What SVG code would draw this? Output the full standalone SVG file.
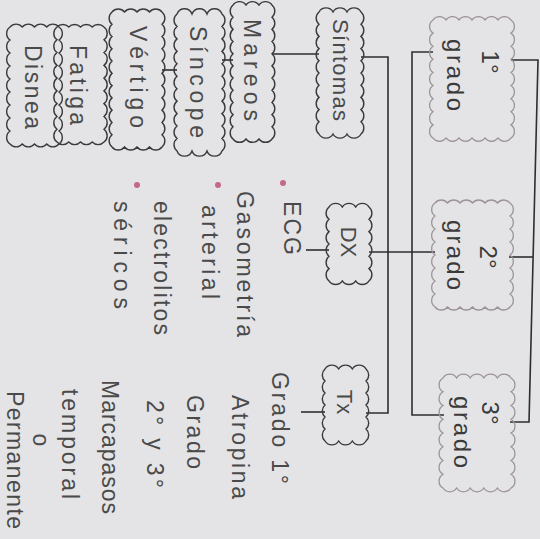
<svg xmlns="http://www.w3.org/2000/svg" width="540" height="539" viewBox="0 0 540 539">
<style>
.bg{fill:#e4e4e6}
.cl{fill:none;stroke:#3a3a3a;stroke-width:1.4}
.cg{fill:none;stroke:#9c9498;stroke-width:1.3}
.ln{fill:none;stroke:#2e2e2e;stroke-width:1.6}
.t{font-family:"Liberation Sans",Arial,sans-serif;fill:#4a4a4a;font-size:23px;text-anchor:middle;dominant-baseline:central}
.s{font-size:22px}
.tg{font-family:"Liberation Sans",Arial,sans-serif;fill:#3a3a3a;font-size:24px;text-anchor:middle;dominant-baseline:central}
.b{fill:#c26a85}
</style>
<rect class="bg" x="0" y="0" width="540" height="539"/>
<g id="connectors">
<path class="ln" d="M272,54 H319"/>
<path class="ln" d="M222,60 H233"/>
<path class="ln" d="M162,70 H177"/>
<path class="ln" d="M361,57 H388 V413 H366"/>
<path class="ln" d="M301,412 H325"/>
<path class="ln" d="M306,250 H329"/>
<path class="ln" d="M369,252 H435"/>
<path class="ln" d="M433,52 H412 V415 H444"/>
<path class="ln" d="M511,60 H538 L529,422 H510"/>
<path class="ln" d="M509,257 H533"/>
</g>
<g id="grado1">
<path class="cg" d="M433,20 a8,8 0 0 1 13,0 a8,8 0 0 1 13,0 a8,8 0 0 1 13,0 a8,8 0 0 1 13,0 a8,8 0 0 1 13,0 a8,8 0 0 1 13,0 a8,8 0 0 1 0,13.11 a8,8 0 0 1 0,13.11 a8,8 0 0 1 0,13.11 a8,8 0 0 1 0,13.11 a8,8 0 0 1 0,13.11 a8,8 0 0 1 0,13.11 a8,8 0 0 1 0,13.11 a8,8 0 0 1 0,13.11 a8,8 0 0 1 0,13.11 a8,8 0 0 1 -13,0 a8,8 0 0 1 -13,0 a8,8 0 0 1 -13,0 a8,8 0 0 1 -13,0 a8,8 0 0 1 -13,0 a8,8 0 0 1 -13,0 a8,8 0 0 1 0,-13.11 a8,8 0 0 1 0,-13.11 a8,8 0 0 1 0,-13.11 a8,8 0 0 1 0,-13.11 a8,8 0 0 1 0,-13.11 a8,8 0 0 1 0,-13.11 a8,8 0 0 1 0,-13.11 a8,8 0 0 1 0,-13.11 a8,8 0 0 1 0,-13.11z"/>
<text class="tg" transform="translate(490,62) rotate(90)">1°</text>
<text class="tg" transform="translate(455,75) rotate(90)" textLength="72" lengthAdjust="spacing">grado</text>
</g>
<g id="grado2">
<path class="cg" d="M435,203 a8,8 0 0 1 12.5,0 a8,8 0 0 1 12.5,0 a8,8 0 0 1 12.5,0 a8,8 0 0 1 12.5,0 a8,8 0 0 1 12.5,0 a8,8 0 0 1 12.5,0 a8,8 0 0 1 0,13 a8,8 0 0 1 0,13 a8,8 0 0 1 0,13 a8,8 0 0 1 0,13 a8,8 0 0 1 0,13 a8,8 0 0 1 0,13 a8,8 0 0 1 0,13 a8,8 0 0 1 0,13 a8,8 0 0 1 -12.5,0 a8,8 0 0 1 -12.5,0 a8,8 0 0 1 -12.5,0 a8,8 0 0 1 -12.5,0 a8,8 0 0 1 -12.5,0 a8,8 0 0 1 -12.5,0 a8,8 0 0 1 0,-13 a8,8 0 0 1 0,-13 a8,8 0 0 1 0,-13 a8,8 0 0 1 0,-13 a8,8 0 0 1 0,-13 a8,8 0 0 1 0,-13 a8,8 0 0 1 0,-13 a8,8 0 0 1 0,-13z"/>
<text class="tg" transform="translate(488,257) rotate(90)">2°</text>
<text class="tg" transform="translate(455,255) rotate(90)" textLength="70" lengthAdjust="spacing">grado</text>
</g>
<g id="grado3">
<path class="cg" d="M443,378 a8,8 0 0 1 13.6,0 a8,8 0 0 1 13.6,0 a8,8 0 0 1 13.6,0 a8,8 0 0 1 13.6,0 a8,8 0 0 1 13.6,0 a8,8 0 0 1 0,13.75 a8,8 0 0 1 0,13.75 a8,8 0 0 1 0,13.75 a8,8 0 0 1 0,13.75 a8,8 0 0 1 0,13.75 a8,8 0 0 1 0,13.75 a8,8 0 0 1 0,13.75 a8,8 0 0 1 0,13.75 a8,8 0 0 1 -13.6,0 a8,8 0 0 1 -13.6,0 a8,8 0 0 1 -13.6,0 a8,8 0 0 1 -13.6,0 a8,8 0 0 1 -13.6,0 a8,8 0 0 1 0,-13.75 a8,8 0 0 1 0,-13.75 a8,8 0 0 1 0,-13.75 a8,8 0 0 1 0,-13.75 a8,8 0 0 1 0,-13.75 a8,8 0 0 1 0,-13.75 a8,8 0 0 1 0,-13.75 a8,8 0 0 1 0,-13.75z"/>
<text class="tg" transform="translate(490,413) rotate(90)">3°</text>
<text class="tg" transform="translate(462,432) rotate(90)" textLength="72" lengthAdjust="spacing">grado</text>
</g>
<g id="sintomas">
<path class="cl" d="M319,12 a8,8 0 0 1 14,0 a8,8 0 0 1 14,0 a8,8 0 0 1 14,0 a8,8 0 0 1 0,12.2 a8,8 0 0 1 0,12.2 a8,8 0 0 1 0,12.2 a8,8 0 0 1 0,12.2 a8,8 0 0 1 0,12.2 a8,8 0 0 1 0,12.2 a8,8 0 0 1 0,12.2 a8,8 0 0 1 0,12.2 a8,8 0 0 1 0,12.2 a8,8 0 0 1 0,12.2 a8,8 0 0 1 -14,0 a8,8 0 0 1 -14,0 a8,8 0 0 1 -14,0 a8,8 0 0 1 0,-12.2 a8,8 0 0 1 0,-12.2 a8,8 0 0 1 0,-12.2 a8,8 0 0 1 0,-12.2 a8,8 0 0 1 0,-12.2 a8,8 0 0 1 0,-12.2 a8,8 0 0 1 0,-12.2 a8,8 0 0 1 0,-12.2 a8,8 0 0 1 0,-12.2 a8,8 0 0 1 0,-12.2z"/>
<text class="t s" transform="translate(340,70) rotate(90)" textLength="102" lengthAdjust="spacing">Síntomas</text>
</g>
<g id="mareos">
<path class="cl" d="M233,5 a8,8 0 0 1 13,0 a8,8 0 0 1 13,0 a8,8 0 0 1 13,0 a8,8 0 0 1 0,12.18 a8,8 0 0 1 0,12.18 a8,8 0 0 1 0,12.18 a8,8 0 0 1 0,12.18 a8,8 0 0 1 0,12.18 a8,8 0 0 1 0,12.18 a8,8 0 0 1 0,12.18 a8,8 0 0 1 0,12.18 a8,8 0 0 1 0,12.18 a8,8 0 0 1 0,12.18 a8,8 0 0 1 0,12.18 a8,8 0 0 1 -13,0 a8,8 0 0 1 -13,0 a8,8 0 0 1 -13,0 a8,8 0 0 1 0,-12.18 a8,8 0 0 1 0,-12.18 a8,8 0 0 1 0,-12.18 a8,8 0 0 1 0,-12.18 a8,8 0 0 1 0,-12.18 a8,8 0 0 1 0,-12.18 a8,8 0 0 1 0,-12.18 a8,8 0 0 1 0,-12.18 a8,8 0 0 1 0,-12.18 a8,8 0 0 1 0,-12.18 a8,8 0 0 1 0,-12.18z"/>
<text class="t" transform="translate(252,70) rotate(90)" textLength="102" lengthAdjust="spacing">Mareos</text>
</g>
<g id="sincope">
<path class="cl" d="M177,14 a8,8 0 0 1 15,0 a8,8 0 0 1 15,0 a8,8 0 0 1 15,0 a8,8 0 0 1 0,12.45 a8,8 0 0 1 0,12.45 a8,8 0 0 1 0,12.45 a8,8 0 0 1 0,12.45 a8,8 0 0 1 0,12.45 a8,8 0 0 1 0,12.45 a8,8 0 0 1 0,12.45 a8,8 0 0 1 0,12.45 a8,8 0 0 1 0,12.45 a8,8 0 0 1 0,12.45 a8,8 0 0 1 0,12.45 a8,8 0 0 1 -15,0 a8,8 0 0 1 -15,0 a8,8 0 0 1 -15,0 a8,8 0 0 1 0,-12.45 a8,8 0 0 1 0,-12.45 a8,8 0 0 1 0,-12.45 a8,8 0 0 1 0,-12.45 a8,8 0 0 1 0,-12.45 a8,8 0 0 1 0,-12.45 a8,8 0 0 1 0,-12.45 a8,8 0 0 1 0,-12.45 a8,8 0 0 1 0,-12.45 a8,8 0 0 1 0,-12.45 a8,8 0 0 1 0,-12.45z"/>
<text class="t" transform="translate(198,82) rotate(90)" textLength="112" lengthAdjust="spacing">Síncope</text>
</g>
<g id="vertigo">
<path class="cl" d="M112,12 a8,8 0 0 1 12.5,0 a8,8 0 0 1 12.5,0 a8,8 0 0 1 12.5,0 a8,8 0 0 1 12.5,0 a8,8 0 0 1 0,12.27 a8,8 0 0 1 0,12.27 a8,8 0 0 1 0,12.27 a8,8 0 0 1 0,12.27 a8,8 0 0 1 0,12.27 a8,8 0 0 1 0,12.27 a8,8 0 0 1 0,12.27 a8,8 0 0 1 0,12.27 a8,8 0 0 1 0,12.27 a8,8 0 0 1 0,12.27 a8,8 0 0 1 0,12.27 a8,8 0 0 1 -12.5,0 a8,8 0 0 1 -12.5,0 a8,8 0 0 1 -12.5,0 a8,8 0 0 1 -12.5,0 a8,8 0 0 1 0,-12.27 a8,8 0 0 1 0,-12.27 a8,8 0 0 1 0,-12.27 a8,8 0 0 1 0,-12.27 a8,8 0 0 1 0,-12.27 a8,8 0 0 1 0,-12.27 a8,8 0 0 1 0,-12.27 a8,8 0 0 1 0,-12.27 a8,8 0 0 1 0,-12.27 a8,8 0 0 1 0,-12.27 a8,8 0 0 1 0,-12.27z"/>
<text class="t" transform="translate(138,77) rotate(90)" textLength="102" lengthAdjust="spacing">Vértigo</text>
</g>
<g id="fatiga">
<path class="cl" d="M57,27 a8,8 0 0 1 11.75,0 a8,8 0 0 1 11.75,0 a8,8 0 0 1 11.75,0 a8,8 0 0 1 11.75,0 a8,8 0 0 1 0,12.78 a8,8 0 0 1 0,12.78 a8,8 0 0 1 0,12.78 a8,8 0 0 1 0,12.78 a8,8 0 0 1 0,12.78 a8,8 0 0 1 0,12.78 a8,8 0 0 1 0,12.78 a8,8 0 0 1 0,12.78 a8,8 0 0 1 0,12.78 a8,8 0 0 1 -11.75,0 a8,8 0 0 1 -11.75,0 a8,8 0 0 1 -11.75,0 a8,8 0 0 1 -11.75,0 a8,8 0 0 1 0,-12.78 a8,8 0 0 1 0,-12.78 a8,8 0 0 1 0,-12.78 a8,8 0 0 1 0,-12.78 a8,8 0 0 1 0,-12.78 a8,8 0 0 1 0,-12.78 a8,8 0 0 1 0,-12.78 a8,8 0 0 1 0,-12.78 a8,8 0 0 1 0,-12.78z"/>
<text class="t" transform="translate(78,85) rotate(90)" textLength="80" lengthAdjust="spacing">Fatiga</text>
</g>
<g id="disnea">
<path class="cl" d="M10,27 a8,8 0 0 1 12.25,0 a8,8 0 0 1 12.25,0 a8,8 0 0 1 12.25,0 a8,8 0 0 1 12.25,0 a8,8 0 0 1 0,13 a8,8 0 0 1 0,13 a8,8 0 0 1 0,13 a8,8 0 0 1 0,13 a8,8 0 0 1 0,13 a8,8 0 0 1 0,13 a8,8 0 0 1 0,13 a8,8 0 0 1 0,13 a8,8 0 0 1 0,13 a8,8 0 0 1 -12.25,0 a8,8 0 0 1 -12.25,0 a8,8 0 0 1 -12.25,0 a8,8 0 0 1 -12.25,0 a8,8 0 0 1 0,-13 a8,8 0 0 1 0,-13 a8,8 0 0 1 0,-13 a8,8 0 0 1 0,-13 a8,8 0 0 1 0,-13 a8,8 0 0 1 0,-13 a8,8 0 0 1 0,-13 a8,8 0 0 1 0,-13 a8,8 0 0 1 0,-13z"/>
<text class="t" transform="translate(33,87) rotate(90)" textLength="84" lengthAdjust="spacing">Disnea</text>
</g>
<g id="dx">
<path class="cl" d="M329,207 a8,8 0 0 1 13.33,0 a8,8 0 0 1 13.33,0 a8,8 0 0 1 13.33,0 a8,8 0 0 1 0,12.33 a8,8 0 0 1 0,12.33 a8,8 0 0 1 0,12.33 a8,8 0 0 1 0,12.33 a8,8 0 0 1 0,12.33 a8,8 0 0 1 0,12.33 a8,8 0 0 1 -13.33,0 a8,8 0 0 1 -13.33,0 a8,8 0 0 1 -13.33,0 a8,8 0 0 1 0,-12.33 a8,8 0 0 1 0,-12.33 a8,8 0 0 1 0,-12.33 a8,8 0 0 1 0,-12.33 a8,8 0 0 1 0,-12.33 a8,8 0 0 1 0,-12.33z"/>
<text class="t s" transform="translate(348,242) rotate(90)">DX</text>
</g>
<g id="tx">
<path class="cl" d="M325,369 a8,8 0 0 1 13.67,0 a8,8 0 0 1 13.67,0 a8,8 0 0 1 13.67,0 a8,8 0 0 1 0,12 a8,8 0 0 1 0,12 a8,8 0 0 1 0,12 a8,8 0 0 1 0,12 a8,8 0 0 1 0,12 a8,8 0 0 1 0,12 a8,8 0 0 1 -13.67,0 a8,8 0 0 1 -13.67,0 a8,8 0 0 1 -13.67,0 a8,8 0 0 1 0,-12 a8,8 0 0 1 0,-12 a8,8 0 0 1 0,-12 a8,8 0 0 1 0,-12 a8,8 0 0 1 0,-12 a8,8 0 0 1 0,-12z"/>
<text class="t s" transform="translate(344,402) rotate(90)">Tx</text>
</g>
<g id="dx-list">
<circle class="b" cx="283" cy="183" r="3"/>
<circle class="b" cx="218" cy="185" r="3"/>
<circle class="b" cx="137" cy="185" r="3"/>
<text class="t" transform="translate(292,228) rotate(90)" textLength="54" lengthAdjust="spacing">ECG</text>
<text class="t" transform="translate(245,264) rotate(90)" textLength="146" lengthAdjust="spacing">Gasometría</text>
<text class="t" transform="translate(210,252) rotate(90)" textLength="94" lengthAdjust="spacing">arterial</text>
<text class="t" transform="translate(162,268) rotate(90)" textLength="134" lengthAdjust="spacing">electrolitos</text>
<text class="t" transform="translate(122,255) rotate(90)" textLength="108" lengthAdjust="spacing">séricos</text>
</g>
<g id="tx-list">
<text class="t" transform="translate(280,428) rotate(90)" textLength="112" lengthAdjust="spacing">Grado 1°</text>
<text class="t" transform="translate(240,447) rotate(90)" textLength="104" lengthAdjust="spacing">Atropina</text>
<text class="t" transform="translate(195,432) rotate(90)" textLength="74" lengthAdjust="spacing">Grado</text>
<text class="t" transform="translate(155,444) rotate(90)" textLength="88" lengthAdjust="spacing">2° y 3°</text>
<text class="t" transform="translate(110,447) rotate(90)" textLength="134" lengthAdjust="spacing">Marcapasos</text>
<text class="t" transform="translate(70,444) rotate(90)" textLength="110" lengthAdjust="spacing">temporal</text>
<text class="t" transform="translate(41,440) rotate(90)">o</text>
<text class="t" transform="translate(15,460) rotate(90)" textLength="138" lengthAdjust="spacing">Permanente</text>
</g>
</svg>
